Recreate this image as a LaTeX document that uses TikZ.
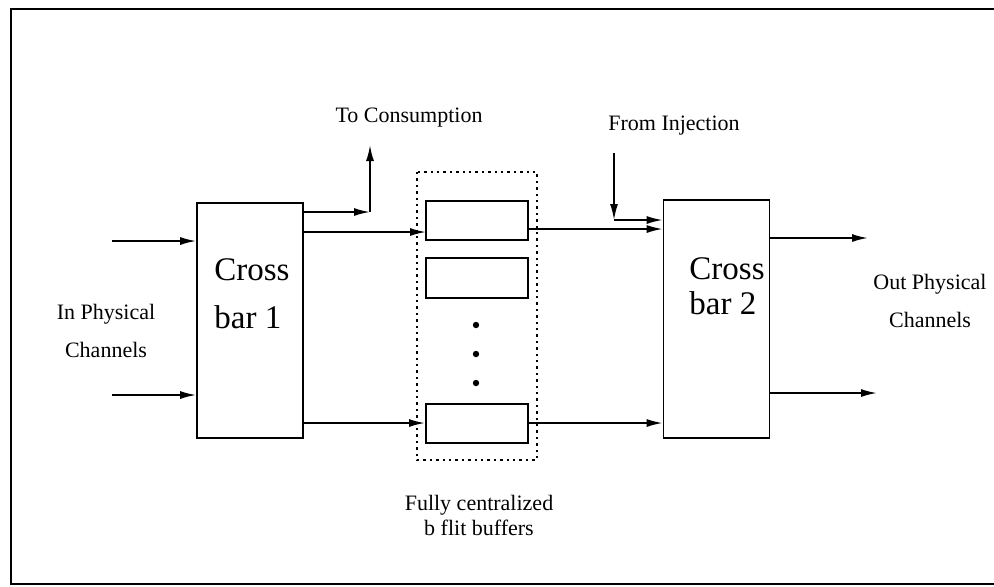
\documentclass[tikz,border=0pt]{standalone}
\usepackage{fontspec}
\setmainfont{Liberation Serif}
\usetikzlibrary{arrows.meta, positioning, calc}

\begin{document}
\begin{tikzpicture}[
    x=0.5pt, y=-0.5pt,
    xbar/.style={rectangle, draw, line width=0.8pt, minimum width=53pt, inner sep=0pt},
    buffer/.style={rectangle, draw, line width=1pt, minimum width=51pt, minimum height=19.5pt, inner sep=0pt},
    xbartext/.style={align=left, font=\fontsize{16.5}{24}\selectfont},
    lbl/.style={align=center, font=\fontsize{11}{19}\selectfont},
    arrow/.style={-{Latex[length=8pt, width=4pt]}, line width=0.9pt}
]
\useasboundingbox (0,0) rectangle (994,586);
\draw[line width=0.8pt] (994,9) -- (11,9) -- (11,584) -- (994,584);

% crossbars
\node[xbar, minimum height=117.5pt] (cb1) at (250,320.5) {};
\node[xbar, minimum height=119pt] (cb2) at (716.5,319) {};
\node[xbartext] (cb1txt) at (252,294) {Cross\\[0pt]bar 1};
\node[xbartext, font=\fontsize{16.5}{17.5}\selectfont] (cb2txt) at (727,286) {Cross\\bar 2};

% buffers
\node[buffer] (buf1) at (477,220) {};
\node[buffer, minimum height=20pt] (buf2) at (477,278) {};
\node[buffer] (buf3) at (477,423) {};
\draw[dotted, line width=1.2pt] (417,172) rectangle (537,460);
\foreach \y in {325,354,383}
    \fill (476,\y) circle (1.6pt);

% labels
\node[lbl] (cons) at (409,118) {To Consumption};
\node[lbl] (inj) at (674,126) {From Injection};
\node[lbl] (inlbl) at (106,331) {In Physical\\Channels};
\node[lbl] (outlbl) at (930,301) {Out Physical\\Channels};
\node[lbl, font=\fontsize{11}{12.5}\selectfont] (buflbl) at (479,515) {Fully centralized\\b flit buffers};

% free ends
\coordinate (in1) at (112,241);
\coordinate (in2) at (112,395);
\coordinate (turn) at (370,212);
\coordinate (up) at (370,145);
\coordinate (b1in) at (426,232);
\coordinate (b1out) at (528,229);
\coordinate (injtop) at (614,153);
\coordinate (injturn) at (614,220);
\coordinate (out1) at (868,238);
\coordinate (out2) at (877,393);

\draw[arrow] (in1) -- (in1 -| cb1.west);
\draw[arrow] (in2) -- (in2 -| cb1.west);
\draw[arrow] (turn -| cb1.east) -- (turn);
\draw[arrow] (turn) -- (up);
\draw[arrow] (b1in -| cb1.east) -- (b1in);
\draw[arrow] (b1out) -- (b1out -| cb2.west);
\draw[arrow] (injtop) -- (injturn);
\draw[arrow] (injturn) -- (injturn -| cb2.west);
\draw[arrow] (cb1.east |- buf3.west) -- (buf3.west);
\draw[arrow] (buf3.east) -- (buf3.east -| cb2.west);
\draw[arrow] (out1 -| cb2.east) -- (out1);
\draw[arrow] (out2 -| cb2.east) -- (out2);
\end{tikzpicture}
\end{document}
